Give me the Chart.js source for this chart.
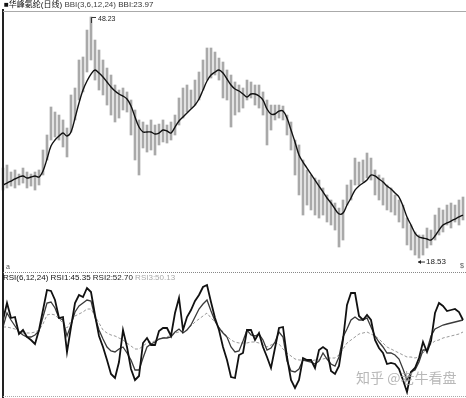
<!DOCTYPE html>
<html>
<head>
<meta charset="utf-8">
<script src="https://cdn.jsdelivr.net/npm/chart.js@4/dist/chart.umd.min.js"></script>
<style>
  html,body{margin:0;padding:0;background:#fff;}
  #wrap{position:relative;width:466px;height:398px;overflow:hidden;background:#fff;font-family:"Liberation Sans","Noto Sans CJK SC",sans-serif;}
  canvas{position:absolute;}
  .txt{position:absolute;white-space:nowrap;font-size:8px;line-height:10px;color:#111;}
  .hl{position:absolute;height:0;}
</style>
</head>
<body>
<div id="wrap">
  <canvas id="top" width="464" height="256" style="left:1px;top:10px;"></canvas>
  <canvas id="bot" width="464" height="114" style="left:1px;top:281px;"></canvas>
  <div style="position:absolute;left:2px;top:9px;width:2px;height:389px;background:#222;"></div>
  <div class="hl" style="left:3px;top:11px;width:463px;border-top:1px solid #aaa;"></div>
  <div class="hl" style="left:3px;top:272px;width:463px;border-top:1px dotted #888;"></div>
  <div class="hl" style="left:3px;top:396px;width:463px;border-top:1px dotted #aaa;"></div>
  <div class="txt" id="title" style="left:4px;top:0px;"></div>
  <div class="txt" style="left:6px;top:262px;font-size:7px;color:#555;">a</div>
  <div class="txt" style="left:460px;top:261px;font-size:7px;color:#555;">$</div>
  <div class="txt" id="rsiLabel" style="left:3px;top:273px;"></div>
  <div class="txt" style="left:356px;top:369px;font-size:14px;line-height:16px;color:rgba(160,160,160,0.75);font-family:'Noto Sans CJK SC',sans-serif;">知乎 @老牛看盘</div>
</div>
<script>
// ---- data ----
const stockName = "■华峰氨纶(日线)";
const bbiParams = "BBI(3,6,12,24)";
const bbiLast = "23.97";
const rsiParams = "RSI(6,12,24)";
const rsiLast = ["45.35", "52.70", "50.13"];

const highs = [29.62,29.99,29.13,29.38,28.88,29.62,29.13,28.88,29.13,29.38,
31.84,33.69,37.14,36.52,36.15,35.54,34.55,38.62,39.48,42.93,
43.30,46.62,48.23,45.39,44.16,42.93,41.94,41.08,39.85,39.23,
39.48,38.99,38.00,36.77,35.54,35.29,34.92,35.54,34.92,35.04,
35.54,34.92,35.29,36.15,38.25,39.48,39.85,39.23,40.46,41.45,
42.93,44.41,44.41,43.91,43.17,42.68,41.70,41.08,40.22,39.85,
39.48,40.46,40.22,39.85,39.85,38.99,38.00,37.38,37.38,37.38,
37.26,36.15,35.29,33.07,32.46,30.61,29.38,28.76,28.39,28.14,
27.16,26.30,25.68,25.31,24.69,25.68,27.53,28.14,30.85,30.36,
30.61,31.47,30.85,29.38,28.76,28.39,27.53,27.16,26.30,25.68,
25.06,23.46,22.60,21.74,21.37,21.37,22.23,21.98,23.83,24.69,
24.45,25.06,25.31,25.06,25.68,26.05];

const lows = [26.91,27.16,27.40,27.16,27.53,27.77,27.16,27.40,26.91,27.53,
28.76,30.61,33.07,33.44,33.07,32.21,30.98,34.06,35.54,38.00,
38.99,41.45,42.93,40.46,39.23,38.62,37.38,36.15,35.29,35.78,
36.77,36.52,33.69,30.61,28.76,32.09,31.59,31.84,31.22,32.46,
32.83,32.70,33.07,33.69,34.92,35.78,36.52,37.01,37.38,38.00,
39.23,40.46,40.71,41.08,40.46,38.25,38.00,34.67,36.15,36.52,
37.01,38.00,38.25,37.38,37.01,36.15,32.46,34.30,35.54,35.78,
35.54,33.69,31.84,28.76,26.30,23.83,25.06,24.45,23.83,23.46,
23.83,22.97,22.60,21.98,19.89,20.75,25.06,25.68,27.53,27.53,
27.90,28.39,28.14,26.30,25.68,25.06,24.45,24.20,23.83,22.97,
22.23,20.14,19.52,18.90,18.53,18.90,19.77,20.14,20.75,21.37,
21.74,22.60,22.23,22.97,22.60,23.22];

const bbi = [27.53,27.77,28.02,28.27,28.51,28.64,28.39,28.51,28.64,28.51,
29.25,30.73,32.33,33.07,33.56,33.93,33.56,34.06,35.78,37.63,
39.23,40.34,41.20,41.70,41.33,40.83,40.22,39.60,39.11,38.74,
38.49,38.12,37.26,35.91,34.67,34.06,34.06,34.06,33.81,33.93,
34.30,34.18,33.93,34.67,35.41,35.91,36.40,36.89,37.38,38.12,
39.23,40.34,41.08,41.45,41.70,41.33,40.59,39.85,39.36,39.11,
38.74,38.37,38.74,38.74,38.49,38.00,36.89,36.28,36.28,36.64,
36.64,35.78,34.30,32.83,31.22,30.36,29.62,28.88,28.14,27.40,
26.67,25.93,25.31,24.57,23.96,24.08,25.06,25.93,26.91,27.40,
27.77,28.14,28.76,28.64,28.27,27.90,27.40,27.04,26.54,26.05,
24.94,23.59,22.60,21.61,21.12,21.00,20.88,20.75,21.24,21.98,
22.60,22.85,23.09,23.34,23.59,23.83];

const rsi1 = [62.5,74.4,63.9,64.6,52.7,55.5,50.6,48.5,45.7,55.5,
69.5,83.5,82.8,76.5,63.9,64.6,40.1,57.6,74.4,80.0,
78.6,84.9,82.1,66.0,51.3,43.6,34.5,24.7,21.9,33.1,
55.5,43.6,28.2,20.5,23.3,46.4,49.9,45.0,45.0,54.8,
56.9,56.9,51.3,67.4,77.9,55.5,64.6,69.5,75.8,80.0,
85.6,87.0,75.1,63.9,55.5,43.6,34.5,22.6,21.9,38.0,
39.4,55.5,55.5,48.5,53.4,43.6,36.6,28.9,42.9,56.9,
57.6,36.6,20.5,14.9,20.5,35.9,34.5,34.5,28.9,41.5,
43.6,41.5,26.8,24.7,30.3,48.5,73.0,81.4,81.4,65.3,
62.5,66.0,62.5,48.5,42.9,39.4,31.7,32.4,31.7,28.2,
20.5,12.1,26.1,28.9,35.9,47.1,40.1,47.8,67.4,74.4,
72.3,68.8,69.5,70.2,68.1,62.5];

const rsi2 = [57.6,67.4,62.5,58.3,54.1,52.0,50.6,50.6,52.0,54.8,
64.6,74.4,75.1,70.9,63.9,62.5,51.3,59.0,68.1,72.3,
74.4,76.5,75.8,64.6,55.5,49.2,43.6,40.8,40.1,42.2,
43.6,39.4,34.5,27.5,27.5,35.9,43.6,45.7,47.1,49.2,
49.9,49.9,50.6,54.1,56.2,53.4,55.5,59.0,64.6,70.2,
73.7,76.5,68.8,61.8,56.9,53.4,50.6,43.6,40.1,40.8,
47.8,55.5,52.0,51.3,52.7,48.5,41.5,42.9,47.1,54.1,
50.6,33.8,26.8,26.1,28.2,34.5,33.8,33.1,31.7,33.8,
39.4,35.2,31.7,30.3,36.6,50.6,56.2,62.5,64.6,62.5,
62.5,63.9,57.6,51.3,47.1,43.6,39.4,39.4,38.0,35.2,
28.2,20.5,26.1,27.5,33.1,41.5,41.5,51.3,56.2,57.6,
59.0,59.7,60.4,61.1,61.8,62.5];

const rsi3 = [57.6,57.6,56.9,56.2,54.1,53.4,53.4,53.4,54.1,55.5,
59.7,66.0,66.7,66.0,63.2,60.4,56.9,61.8,65.3,66.7,
68.1,70.2,70.2,65.3,60.4,55.5,53.4,52.0,51.3,49.9,
48.5,46.4,44.3,42.2,42.2,44.3,46.4,47.1,47.8,49.2,
49.9,50.6,52.0,53.4,54.1,54.8,55.5,58.3,61.1,63.2,
65.3,67.4,63.9,61.1,57.6,54.1,51.3,48.5,47.1,46.4,
46.4,46.4,47.1,47.1,46.4,45.0,43.6,45.0,46.4,45.7,
42.2,39.4,37.3,35.2,34.5,34.5,34.5,33.8,34.5,34.5,
35.2,35.9,35.9,35.9,38.0,42.2,46.4,48.5,50.6,52.7,
53.4,54.1,52.7,51.3,49.2,46.4,43.6,42.2,40.8,39.4,
38.0,36.6,36.6,35.9,36.6,39.4,42.2,45.7,47.8,48.5,
49.9,50.6,51.3,52.0,52.7,54.1];

const days = highs.map((_, i) => String(i + 1));

// ---- text ----
document.getElementById('title').innerHTML =
  stockName + ' <span style="color:#444">' + bbiParams + '</span> <span style="color:#333">BBI:' + bbiLast + '</span>';
document.getElementById('rsiLabel').innerHTML =
  rsiParams + ' <span style="color:#111">RSI1:' + rsiLast[0] + '</span> <span style="color:#222">RSI2:' + rsiLast[1] +
  '</span> <span style="color:#aaa">RSI3:' + rsiLast[2] + '</span>';

// ---- annotation plugin (max / min markers) ----
const extremes = {
  id: 'extremes',
  afterDatasetsDraw(chart) {
    const ctx = chart.ctx, xs = chart.scales.x, ys = chart.scales.y;
    let iMax = 0, iMin = 0;
    highs.forEach((v, i) => { if (v > highs[iMax]) iMax = i; });
    lows.forEach((v, i) => { if (v < lows[iMin]) iMin = i; });
    ctx.save();
    ctx.strokeStyle = '#333'; ctx.fillStyle = '#222'; ctx.lineWidth = 1;
    ctx.font = '7px "Liberation Sans", sans-serif';
    let px = xs.getPixelForValue(iMax), py = ys.getPixelForValue(highs[iMax]);
    ctx.beginPath(); ctx.moveTo(px + 0.5, py + 6); ctx.lineTo(px + 0.5, py + 0.5); ctx.lineTo(px + 5, py + 0.5); ctx.stroke();
    ctx.textBaseline = 'middle';
    ctx.fillText(highs[iMax].toFixed(2), px + 7, py + 2);
    px = xs.getPixelForValue(iMin); py = ys.getPixelForValue(lows[iMin]) + 4;
    ctx.beginPath(); ctx.moveTo(px - 1, py); ctx.lineTo(px + 6, py); ctx.stroke();
    ctx.beginPath(); ctx.moveTo(px - 1, py); ctx.lineTo(px + 2, py - 2); ctx.lineTo(px + 2, py + 2); ctx.closePath(); ctx.fill();
    ctx.font = '8px "Liberation Sans", sans-serif';
    ctx.fillText(lows[iMin].toFixed(2), px + 7, py);
    ctx.restore();
  }
};

const hidden = { display: false };

new Chart(document.getElementById('top'), {
  type: 'bar',
  data: {
    labels: days,
    datasets: [
      { type: 'line', data: bbi, borderColor: '#111', borderWidth: 1.4, pointRadius: 0, tension: 0.35, fill: false },
      { type: 'bar', data: highs.map((h, i) => [lows[i], h]), backgroundColor: 'rgba(140,140,140,0.75)',
        barThickness: 2, borderWidth: 0 }
    ]
  },
  options: {
    responsive: false, animation: false, devicePixelRatio: 1,
    layout: { padding: 0 },
    plugins: { legend: hidden, tooltip: { enabled: false } },
    scales: {
      x: { display: false, offset: true },
      y: { display: false, min: 17.55, max: 49.09 }
    }
  },
  plugins: [extremes]
});

new Chart(document.getElementById('bot'), {
  type: 'line',
  data: {
    labels: days,
    datasets: [
      { data: rsi1, borderColor: '#111', borderWidth: 1.8, pointRadius: 0, tension: 0 },
      { data: rsi2, borderColor: '#3a3a3a', borderWidth: 1.3, pointRadius: 0, tension: 0 },
      { data: rsi3, borderColor: '#9a9a9a', borderWidth: 1, borderDash: [3, 2], pointRadius: 0, tension: 0 }
    ]
  },
  options: {
    responsive: false, animation: false, devicePixelRatio: 1,
    layout: { padding: 0 },
    plugins: { legend: hidden, tooltip: { enabled: false } },
    scales: {
      x: { display: false, offset: true },
      y: { display: false, min: 10, max: 89.8 }
    }
  }
});
</script>
</body>
</html>
